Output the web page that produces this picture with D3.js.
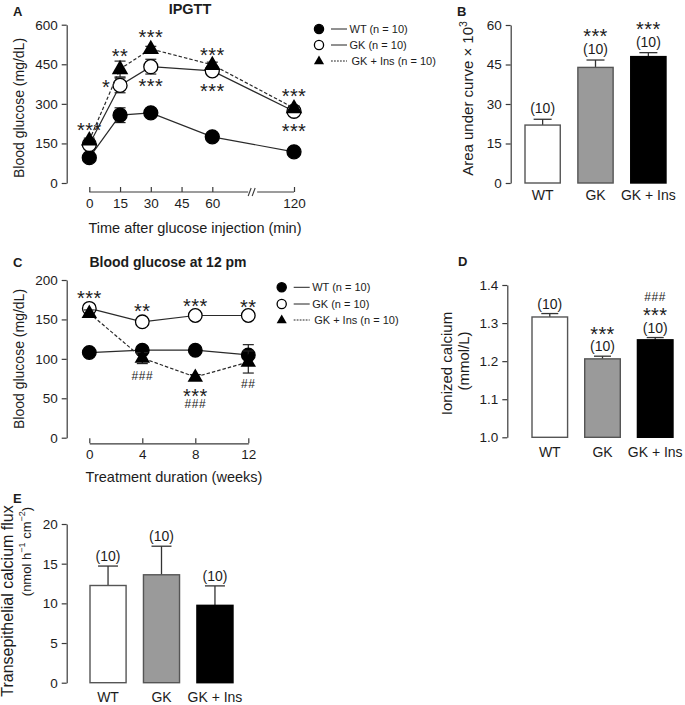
<!DOCTYPE html>
<html><head><meta charset="utf-8">
<script src="https://cdn.jsdelivr.net/npm/d3@7"></script>
<style>
body{margin:0;background:#fff;}
svg{font-family:"Liberation Sans",Arial,Helvetica,sans-serif;}
</style></head><body>
<svg id="c" width="685" height="705"></svg>
<script>
// ---------------- DATA ----------------
const groups = ["WT", "GK", "GK + Ins"];
const seriesNames = ["WT (n = 10)", "GK (n = 10)", "GK + Ins (n = 10)"];

// Panel A: IPGTT
const ipgttTimes = [0, 15, 30, 60, 120];
const ipgttTicks = [0, 15, 30, 45, 60, 120];
const ipgttYTicks = [0, 150, 300, 450, 600];
const ipgttWT = [96, 257, 266, 175, 118];
const ipgttWTErr = [6, 28, 8, 6, 5];
const ipgttGK = [146, 370, 441, 425, 272];
const ipgttGKErr = [8, 28, 28, 14, 8];
const ipgttIns = [162, 432, 508, 448, 284];
const ipgttInsErr = [8, 30, 10, 10, 8];
const ipgttMarks = [
  {t: 0, v: 216, s: "***", dx: 0},
  {t: 15, v: 495, s: "**", dx: 0},
  {t: 15, v: 378, s: "*", dx: -14},
  {t: 30, v: 570, s: "***", dx: 0},
  {t: 30, v: 384, s: "***", dx: 0},
  {t: 60, v: 501, s: "***", dx: 0},
  {t: 60, v: 363, s: "***", dx: 0},
  {t: 120, v: 346, s: "***", dx: 0},
  {t: 120, v: 213, s: "***", dx: 0}
];

// Panel B: AUC
const aucYTicks = [0, 15, 30, 45, 60];
const aucValues = [22.0, 43.9, 48.0];
const aucErr = [2.2, 2.8, 1.5];
const aucN = ["(10)", "(10)", "(10)"];
const aucSig = ["", "***", "***"];

// Panel C: Blood glucose at 12 pm
const weeks = [0, 4, 8, 12];
const bgYTicks = [0, 50, 100, 150, 200];
const bgWT = [108, 111, 111, 105];
const bgWTErr = [3, 4, 3, 13];
const bgGK = [164, 147, 155, 155];
const bgGKErr = [4, 3, 3, 3];
const bgIns = [158, 101, 77, 96];
const bgInsErr = [4, 7, 3, 14];
const bgMarks = [
  {t: 0, v: 182, s: "***"},
  {t: 4, v: 166, s: "**"},
  {t: 8, v: 172.5, s: "***"},
  {t: 12, v: 171, s: "**"},
  {t: 4, v: 78, s: "###"},
  {t: 8, v: 58, s: "***"},
  {t: 8, v: 43, s: "###"},
  {t: 12, v: 69, s: "##"}
];

// Panel D: Ionized calcium
const caYTicks = [1.0, 1.1, 1.2, 1.3, 1.4];
const caValues = [1.316, 1.206, 1.256];
const caErr = [0.009, 0.007, 0.006];
const caN = ["(10)", "(10)", "(10)"];
const caSig = ["", "***", "***"];
const caSig2 = ["", "", "###"];

// Panel E: Transepithelial calcium flux
const fluxYTicks = [0, 5, 10, 15, 20];
const fluxValues = [12.25, 13.6, 9.75];
const fluxErr = [2.45, 3.6, 2.45];
const fluxN = ["(10)", "(10)", "(10)"];

// ---------------- DRAWING ----------------
const svg = d3.select("#c");
const INK = "#1c1c1c";
const AX = "#3a3a3a";
const barFill = ["#ffffff", "#9a9a9a", "#000000"];
const barStroke = ["#555555", "#555555", "#000000"];

function styleAxis(g) {
  g.selectAll("path,line").attr("stroke", AX).attr("stroke-width", 1.2);
  g.selectAll("text").attr("fill", INK).style("font-size", "13.5px")
    .style("font-family", '"Liberation Sans",Arial,sans-serif');
}
function yAxis(x, scale, ticks, fmt) {
  const g = svg.append("g").attr("transform", `translate(${x},0)`)
    .call(d3.axisLeft(scale).tickValues(ticks).tickSize(5).tickSizeOuter(0).tickPadding(4).tickFormat(fmt));
  styleAxis(g);
  return g;
}
function text(x, y, s, opts = {}) {
  const t = svg.append("text").attr("x", x).attr("y", y).text(s)
    .attr("fill", INK)
    .attr("text-anchor", opts.anchor || "middle")
    .style("font-size", (opts.size || 14) + "px");
  if (opts.bold) t.style("font-weight", "bold");
  if (opts.ls) t.style("letter-spacing", opts.ls + "px");
  return t;
}
function vtext(cx, cy, parts, size) {
  const t = svg.append("text")
    .attr("transform", `translate(${cx + size * 0.36},${cy}) rotate(-90)`)
    .attr("text-anchor", "middle").attr("fill", INK).style("font-size", size + "px");
  parts.forEach(p => {
    const ts = t.append("tspan").text(p.s);
    if (p.sup) ts.attr("dy", -size * 0.4).style("font-size", (size * 0.7) + "px");
    if (p.down) ts.attr("dy", size * 0.4);
  });
  return t;
}
function stars(x, yc, s) {
  if (s.startsWith("#")) {
    text(x, yc + 4.3, s, {size: 12, ls: 0.6});
  } else {
    text(x, yc + 11, s, {size: 20, ls: 0.4});
  }
}
function marker(g, type, x, y, r) {
  if (type === "tri") {
    g.append("path").attr("d", d3.symbol(d3.symbolTriangle, r * r * 2.1)())
      .attr("transform", `translate(${x},${y + r * 0.05})`).attr("fill", "#000");
  } else {
    g.append("circle").attr("cx", x).attr("cy", y).attr("r", r)
      .attr("fill", type === "open" ? "#fff" : "#000")
      .attr("stroke", "#000").attr("stroke-width", 1.3);
  }
}
function errbar(g, x, v, e, y, cap) {
  g.append("line").attr("x1", x).attr("x2", x).attr("y1", y(v - e)).attr("y2", y(v + e))
    .attr("stroke", "#222").attr("stroke-width", 1.2);
  [v - e, v + e].forEach(w => g.append("line").attr("x1", x - cap).attr("x2", x + cap)
    .attr("y1", y(w)).attr("y2", y(w)).attr("stroke", "#222").attr("stroke-width", 1.2));
}
function legend(x0, ys, r) {
  const types = ["filled", "open", "tri"];
  const g = svg.append("g");
  seriesNames.forEach((n, i) => {
    marker(g, types[i], x0, ys[i], r);
    g.append("line").attr("x1", x0 + 12).attr("x2", x0 + 28).attr("y1", ys[i]).attr("y2", ys[i])
      .attr("stroke", "#222").attr("stroke-width", 1).attr("stroke-dasharray", i === 2 ? "1.8,1.2" : null);
    text(x0 + 30.5 + (i === 2 ? 2 : 0), ys[i] + 3.9, n, {anchor: "start", size: 11});
  });
}
function lineSeries(xs, vals, errs, x, y, type, dashed, r, cap) {
  const g = svg.append("g");
  const pts = xs.map((t, i) => [x(t), y(vals[i])]);
  g.append("path").attr("d", d3.line()(pts)).attr("fill", "none")
    .attr("stroke", "#2a2a2a").attr("stroke-width", 1.2)
    .attr("stroke-dasharray", dashed ? "3.5,2" : null);
  return {g, draw: () => {
    xs.forEach((t, i) => errbar(g, x(t), vals[i], errs[i], y, cap));
  }, marks: () => {
    xs.forEach((t, i) => marker(g, type, x(t), y(vals[i]), r));
  }};
}
function bars(x, y, vals, errs, cap) {
  const g = svg.append("g");
  groups.forEach((grp, i) => {
    const bx = x(grp), bw = x.bandwidth(), cx = bx + bw / 2;
    g.append("line").attr("x1", cx).attr("x2", cx).attr("y1", y(vals[i])).attr("y2", y(vals[i] + errs[i]))
      .attr("stroke", "#333").attr("stroke-width", 1.3);
    g.append("line").attr("x1", cx - cap).attr("x2", cx + cap).attr("y1", y(vals[i] + errs[i])).attr("y2", y(vals[i] + errs[i]))
      .attr("stroke", "#333").attr("stroke-width", 1.3);
    g.append("rect").attr("x", bx).attr("y", y(vals[i])).attr("width", bw)
      .attr("height", y(y.domain()[0]) - y(vals[i]))
      .attr("fill", barFill[i]).attr("stroke", barStroke[i]).attr("stroke-width", 1.4);
  });
}
function xBandLabels(x, yPos) {
  groups.forEach(grp => text(x(grp) + x.bandwidth() / 2, yPos, grp, {size: 14}));
}

// ===== Panel A =====
const xA = d3.scaleLinear().domain([0, 60, 120]).range([89.3, 212.3, 294]);
const yA = d3.scaleLinear().domain([0, 600]).range([183, 24.7]);
yAxis(66.7, yA, ipgttYTicks, d3.format("d"));
{
  const axY = 192;
  const gx = svg.append("g").attr("transform", `translate(0,${axY})`)
    .call(d3.axisBottom(xA).tickValues(ipgttTicks).tickSizeInner(-5).tickSizeOuter(0).tickPadding(6).tickFormat(d3.format("d")));
  styleAxis(gx);
  gx.select(".domain").remove();
  const bx = xA(60) + (xA(120) - xA(60)) * 0.5;
  const seg = [[xA(0), bx - 5], [bx + 4, xA(120)]];
  seg.forEach(s => svg.append("line").attr("x1", s[0]).attr("x2", s[1]).attr("y1", axY).attr("y2", axY)
    .attr("stroke", AX).attr("stroke-width", 1.2));
  [-3.5, 0.5].forEach(o => svg.append("line").attr("x1", bx + o - 1.5).attr("x2", bx + o + 1.5)
    .attr("y1", axY + 4).attr("y2", axY - 4).attr("stroke", AX).attr("stroke-width", 1.1));
}
{
  const sW = lineSeries(ipgttTimes, ipgttWT, ipgttWTErr, xA, yA, "filled", false, 7, 5.5);
  const sG = lineSeries(ipgttTimes, ipgttGK, ipgttGKErr, xA, yA, "open", false, 7, 5.5);
  const sI = lineSeries(ipgttTimes, ipgttIns, ipgttInsErr, xA, yA, "tri", true, 7.5, 5.5);
  [sW, sG, sI].forEach(s => s.draw());
  [sW, sG, sI].forEach(s => s.marks());
}
ipgttMarks.forEach(m => stars(xA(m.t) + m.dx, yA(m.v), m.s));
text(190, 13.5, "IPGTT", {bold: true, size: 14.5});
text(13, 15.5, "A", {anchor: "start", bold: true, size: 13});
text(195, 232.5, "Time after glucose injection (min)", {size: 14.5});
vtext(19, 108, [{s: "Blood glucose (mg/dL)"}], 14);
legend(319, [29, 45, 61], 4.6);

// ===== Panel B =====
const xB = d3.scaleBand().domain(groups).range([525, 666]).paddingInner(0.333).paddingOuter(0);
const yB = d3.scaleLinear().domain([0, 60]).range([183, 25]);
yAxis(510.7, yB, aucYTicks, d3.format("d"));
bars(xB, yB, aucValues, aucErr, 9);
groups.forEach((g, i) => {
  const cx = xB(g) + xB.bandwidth() / 2;
  const cap = yB(aucValues[i] + aucErr[i]);
  text(cx, cap - 11 + 5, aucN[i], {size: 14});
  if (aucSig[i]) stars(cx, cap - 28, aucSig[i]);
});
xBandLabels(xB, 200);
text(457, 15.5, "B", {anchor: "start", bold: true, size: 13});
vtext(468, 98.5, [{s: "Area under curve × 10"}, {s: "3", sup: true}], 15);

// ===== Panel C =====
const xC = d3.scaleLinear().domain([0, 12]).range([89.3, 248.3]);
const yC = d3.scaleLinear().domain([0, 200]).range([437.7, 280]);
yAxis(66.7, yC, bgYTicks, d3.format("d"));
{
  const gx = svg.append("g").attr("transform", `translate(0,443.3)`)
    .call(d3.axisBottom(xC).tickValues(weeks).tickSizeInner(-5).tickSizeOuter(0).tickPadding(6).tickFormat(d3.format("d")));
  styleAxis(gx);
}
{
  const sW = lineSeries(weeks, bgWT, bgWTErr, xC, yC, "filled", false, 6.8, 5.5);
  const sG = lineSeries(weeks, bgGK, bgGKErr, xC, yC, "open", false, 6.8, 5.5);
  const sI = lineSeries(weeks, bgIns, bgInsErr, xC, yC, "tri", true, 7, 5.5);
  [sW, sG, sI].forEach(s => s.draw());
  [sW, sG, sI].forEach(s => s.marks());
}
bgMarks.forEach(m => stars(xC(m.t), yC(m.v), m.s));
text(168, 267, "Blood glucose at 12 pm", {bold: true, size: 14});
text(13, 267, "C", {anchor: "start", bold: true, size: 13});
text(174, 481.5, "Treatment duration (weeks)", {size: 14.5});
vtext(19, 359, [{s: "Blood glucose (mg/dL)"}], 14);
legend(281.7, [287.3, 304, 320], 4.6);

// ===== Panel D =====
const xD = d3.scaleBand().domain(groups).range([532, 673]).paddingInner(0.325).paddingOuter(0);
const yD = d3.scaleLinear().domain([1.0, 1.4]).range([437.3, 285]);
yAxis(507.3, yD, caYTicks, d3.format(".1f"));
bars(xD, yD, caValues, caErr, 8.5);
groups.forEach((g, i) => {
  const cx = xD(g) + xD.bandwidth() / 2;
  const cap = yD(caValues[i] + caErr[i]);
  text(cx, cap - 10 + 5, caN[i], {size: 14});
  if (caSig[i]) stars(cx, cap - 26.5, caSig[i]);
  if (caSig2[i]) stars(cx, cap - 40.5, caSig2[i]);
});
xBandLabels(xD, 456.5);
text(458, 266, "D", {anchor: "start", bold: true, size: 13});
vtext(446.5, 363.5, [{s: "Ionized calcium"}], 15);
vtext(464, 361, [{s: "(mmol/L)"}], 15);

// ===== Panel E =====
const xE = d3.scaleBand().domain(groups).range([90, 233]).paddingInner(0.325).paddingOuter(0);
const yE = d3.scaleLinear().domain([0, 20]).range([682.7, 524]);
yAxis(66.7, yE, fluxYTicks, d3.format("d"));
bars(xE, yE, fluxValues, fluxErr, 10);
groups.forEach((g, i) => {
  const cx = xE(g) + xE.bandwidth() / 2;
  const cap = yE(fluxValues[i] + fluxErr[i]);
  text(cx, cap - 10 + 5, fluxN[i], {size: 14});
});
xBandLabels(xE, 701.5);
text(13, 503, "E", {anchor: "start", bold: true, size: 13});
vtext(7.5, 601, [{s: "Transepithelial calcium flux"}], 16);
vtext(26, 551.5, [{s: "(nmol h"}, {s: "−1", sup: true}, {s: " cm", down: true}, {s: "−2", sup: true}, {s: ")", down: true}], 13);
</script>
</body></html>
